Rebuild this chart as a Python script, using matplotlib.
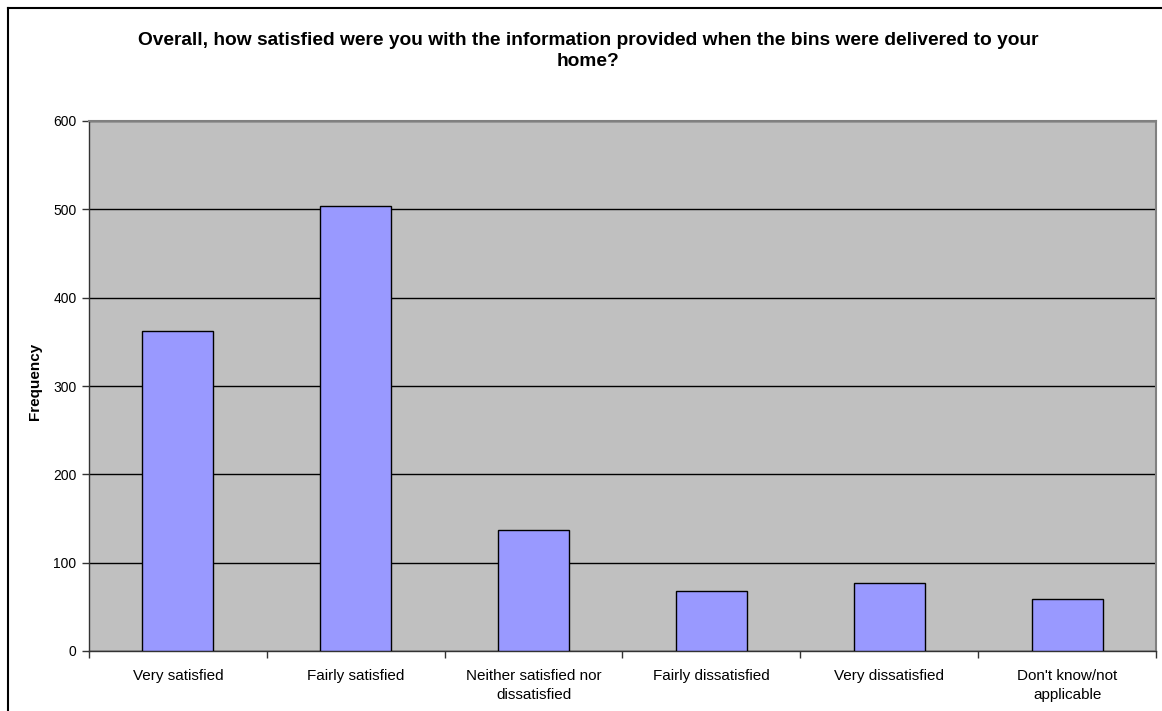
import matplotlib
matplotlib.use("Agg")
import matplotlib.pyplot as plt
from matplotlib.lines import Line2D
import numpy as np

plt.rcParams['font.family'] = ['Liberation Sans', 'DejaVu Sans']

categories = ["Very satisfied", "Fairly satisfied", "Neither satisfied nor\ndissatisfied",
              "Fairly dissatisfied", "Very dissatisfied", "Don't know/not\napplicable"]
values = [362, 504, 137, 68, 77, 59]
yticks = [0, 100, 200, 300, 400, 500, 600]
title = "Overall, how satisfied were you with the information provided when the bins were delivered to your\nhome?"

W, H = 1162, 711
fig = plt.figure(figsize=(W / 100, H / 100), dpi=100)
fig.patch.set_facecolor("white")

left, right, top, bottom = 89, 1156, 121, 651
ax = fig.add_axes([left / W, 1 - bottom / H, (right - left) / W, (bottom - top) / H])
ax.set_facecolor("#C0C0C0")

x = np.arange(len(categories))
ax.set_axisbelow(True)
ax.yaxis.grid(True, color="black", linewidth=1.0)
ax.bar(x, values, width=0.4, color="#9999FF", edgecolor="black", linewidth=1.0, zorder=3)

ax.set_xlim(-0.5, len(categories) - 0.5)
ax.set_ylim(0, 600)
ax.set_yticks(yticks)
ax.set_yticklabels([str(t) for t in yticks], fontsize=10)
ax.tick_params(axis="y", length=5, width=1, color="#333333", pad=4)

ax.set_xticks(x)
ax.set_xticklabels(categories, fontsize=11, va="top", ha="center", linespacing=1.45)
ax.tick_params(axis="x", length=0, pad=13)
ax.set_xticks(np.arange(len(categories) + 1) - 0.5, minor=True)
ax.tick_params(axis="x", which="minor", length=5, width=1, color="#333333")

for s in ["top", "right"]:
    ax.spines[s].set_color("#808080")
    ax.spines[s].set_linewidth(1.5)
for s in ["left", "bottom"]:
    ax.spines[s].set_color("#333333")
    ax.spines[s].set_linewidth(1.0)

fig.text(35 / W, 1 - 381 / H, "Frequency", rotation=90, ha="center", va="center",
         fontsize=11, fontweight="bold")

fig.text(588 / W, 1 - 51 / H, title, ha="center", va="center", fontsize=13.8,
         fontweight="bold", linespacing=1.35)

# outer chart border
fig.add_artist(Line2D([8 / W, 8 / W], [1 - 8 / H, 0], transform=fig.transFigure,
                      color="black", linewidth=1.5))
fig.add_artist(Line2D([8 / W, 1], [1 - 8 / H, 1 - 8 / H], transform=fig.transFigure,
                      color="black", linewidth=1.5))

fig.savefig("out.png", dpi=100)
